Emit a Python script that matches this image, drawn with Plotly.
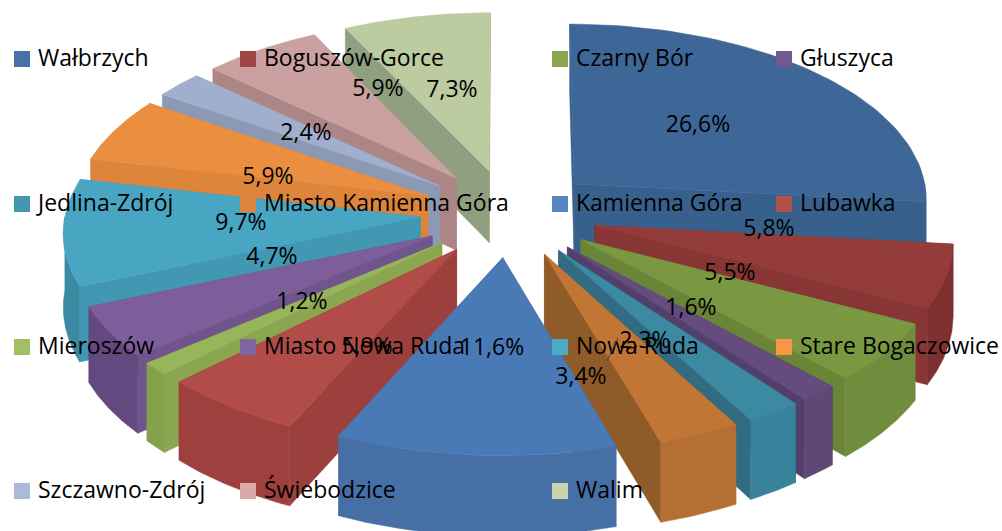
import numpy as np
import plotly.graph_objects as go

names = ["Wałbrzych", "Boguszów-Gorce", "Czarny Bór", "Głuszyca", "Jedlina-Zdrój",
         "Miasto Kamienna Góra", "Kamienna Góra", "Lubawka", "Mieroszów", "Miasto Nowa Ruda",
         "Nowa Ruda", "Stare Bogaczowice", "Szczawno-Zdrój", "Świebodzice", "Walim"]
values = [26.6, 5.8, 5.5, 1.6, 2.3, 3.4, 11.6, 5.9, 1.2, 4.7, 9.7, 5.9, 2.4, 5.9, 7.3]

top_colors = ["#3E6797", "#943C3A", "#7A9841", "#644C7E", "#3C89A2", "#C27635", "#4A7AB5", "#B14C48",
              "#97B55B", "#7D5E9B", "#48A6C3", "#E98F3F", "#A0AFCD", "#CBA0A0", "#BCCBA0"]
wall_colors = ["#38608C", "#883535", "#6A8438", "#52406A", "#316C82", "#8F5B28", "#44709F", "#9C403D",
               "#8AA651", "#6F558B", "#4298B3", "#DD853B", "#8C99B4", "#AD8585", "#909F7F"]
side_colors = ["#38608C", "#7E3030", "#708D3D", "#5E4875", "#38829B", "#B56F32", "#466FA6", "#9E403D",
               "#84A24C", "#63497F", "#3A8AA2", "#DD853B", "#8C99B4", "#AD8585", "#909F7F"]
legend_colors = ["#4572A7", "#A04543", "#89A54E", "#71588F", "#4198AF", "#DB843D", "#5585C0", "#B4504C",
                 "#A2C063", "#8064A2", "#4BACC6", "#F79646", "#AABAD7", "#D9AAA9", "#C6D6AC"]

# layout of the picture (pixel-like scale)
CX, CY, RX, RY, DEPTH, EXPLODE, PERSP = 509, 213, 355, 176, 73, 0.25, 0.075
legend_cols = [14, 240, 552, 776]
legend_rows = [59, 204, 347, 491]
label_xy = [(698, 125), (769, 229), (730, 273), (691, 308), (645, 341), (581, 377), (492, 348), (367, 347),
            (302, 302), (272, 257), (241, 223), (268, 177), (306, 133), (378, 89), (452, 90)]
FONT = "Open Sans"
FS = 23
TEXT_DY = 1


def project(X, Y, z=0.0):
    w = 1 - PERSP * np.asarray(Y)
    return CX + RX * np.asarray(X) / w, CY + (RY * np.asarray(Y) + z * DEPTH) / w


def poly(xs, ys, color):
    return go.Scatter(x=list(xs), y=list(ys), mode="lines", fill="toself", fillcolor=color,
                      line=dict(width=0.5, color=color), hoverinfo="skip", showlegend=False)


total = sum(values)
edges = np.cumsum([0] + values) / total * 2 * np.pi
slices = []
for i, v in enumerate(values):
    a0, a1 = edges[i], edges[i + 1]
    mid = (a0 + a1) / 2
    ox, oy = EXPLODE * np.sin(mid), -EXPLODE * np.cos(mid)
    slices.append((oy, i, a0, a1, ox, oy))

fig = go.Figure()
for _, i, a0, a1, ox, oy in sorted(slices):
    t = np.linspace(a0, a1, 60)
    X, Y = ox + np.sin(t), oy - np.cos(t)
    ax, ay = project(ox, oy)
    ax1, ay1 = project(ox, oy, 1)
    # radial walls
    for a in (a0, a1):
        Xe, Ye = ox + np.sin(a), oy - np.cos(a)
        ex, ey = project(Xe, Ye)
        ex1, ey1 = project(Xe, Ye, 1)
        fig.add_trace(poly([ax, ex, ex1, ax1, ax], [ay, ey, ey1, ay1, ay], wall_colors[i]))
    # outer wall, only the part facing the viewer
    lo, hi = max(a0, np.pi / 2), min(a1, 3 * np.pi / 2)
    if hi > lo:
        s = np.linspace(lo, hi, 40)
        Xs, Ys = ox + np.sin(s), oy - np.cos(s)
        sx, sy = project(Xs, Ys)
        sx1, sy1 = project(Xs, Ys, 1)
        fig.add_trace(poly(np.r_[sx, sx1[::-1], sx[0]], np.r_[sy, sy1[::-1], sy[0]], side_colors[i]))
    # top face
    px, py = project(X, Y)
    fig.add_trace(poly(np.r_[ax, px, ax], np.r_[ay, py, ay], top_colors[i]))

# legend grid
lx = [legend_cols[k % 4] + 8 for k in range(len(names))]
ly = [legend_rows[k // 4] for k in range(len(names))]
fig.add_trace(go.Scatter(x=lx, y=ly, mode="markers", marker=dict(symbol="square", size=16, color=legend_colors, line=dict(width=0)),
                         hoverinfo="skip", showlegend=False))
fig.add_trace(go.Scatter(x=[v + 16 for v in lx], y=[v + TEXT_DY for v in ly], mode="text", text=names, textposition="middle right",
                         textfont=dict(family=FONT, size=FS, color="#000000"), hoverinfo="skip", showlegend=False))
# data labels
labels = [f"{v:.1f}%".replace(".", ",") for v in values]
fig.add_trace(go.Scatter(x=[p[0] for p in label_xy], y=[p[1] + TEXT_DY for p in label_xy], mode="text", text=labels,
                         textposition="middle center", textfont=dict(family=FONT, size=FS, color="#000000"),
                         hoverinfo="skip", showlegend=False))

fig.add_shape(type="line", xref="x", yref="y", x0=607, y0=361, x1=618, y1=338, line=dict(color="#404040", width=1))
fig.update_layout(width=1002, height=531, margin=dict(l=0, r=0, t=0, b=0), paper_bgcolor="white", plot_bgcolor="white",
                  xaxis=dict(range=[0, 1002], visible=False, fixedrange=True),
                  yaxis=dict(range=[531, 0], visible=False, fixedrange=True))
fig.write_html("out.html", config={"displayModeBar": False},
               post_script="document.body.style.margin='0';document.body.style.overflow='hidden';")
